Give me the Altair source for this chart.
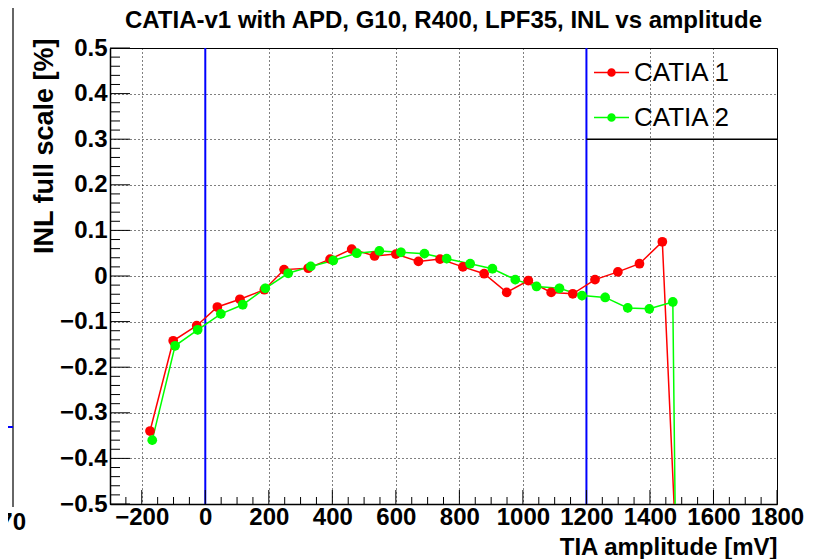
import altair as alt
import pandas as pd

# ---- data ----
cat1_x = [-174, -101, -27, 38, 109, 186, 248, 324, 393, 461, 533, 600, 671, 739,
          811, 878, 949, 1017, 1089, 1157, 1227, 1299, 1367, 1439, 1490]
cat1_y = [-0.340, -0.142, -0.109, -0.068, -0.051, -0.030, 0.014, 0.017, 0.037, 0.059,
          0.044, 0.048, 0.032, 0.037, 0.020, 0.005, -0.036, -0.010, -0.036, -0.039,
          -0.008, 0.009, 0.027, 0.075, -0.72]
cat1_err = [0.006] * 25

cat2_x = [-167, -95, -24, 49, 118, 189, 261, 332, 403, 477, 548, 616, 690, 760,
          834, 904, 976, 1043, 1115, 1186, 1259, 1330, 1398, 1472, 1484]
cat2_y = [-0.360, -0.153, -0.118, -0.083, -0.063, -0.027, 0.006, 0.021, 0.034, 0.050,
          0.055, 0.052, 0.049, 0.038, 0.027, 0.016, -0.008, -0.023, -0.027, -0.043,
          -0.047, -0.070, -0.072, -0.057, -0.80]
cat2_err = [0.010] * 25

series_names = ["CATIA 1", "CATIA 2"]
series_colors = ["#ff0000", "#00ff00"]

vlines = [0, 1200]
x_major = list(range(-200, 1801, 200))
x_minor = [v for v in range(-250, 1801, 50) if v % 200 != 0]
y_major = [round(-0.5 + 0.1 * i, 2) for i in range(11)]
y_minor = [round(-0.5 + 0.02 * i, 2) for i in range(51) if i % 5 != 0]

title_text = "CATIA-v1 with APD, G10, R400, LPF35, INL vs amplitude"
x_title = "TIA amplitude [mV]"
y_title = "INL full scale [%]"
stray_label = "70"   # tick label of the neighbouring (cropped) panel

# ---- tables ----
rows = []
for name, xs, ys, es in [(series_names[0], cat1_x, cat1_y, cat1_err),
                         (series_names[1], cat2_x, cat2_y, cat2_err)]:
    for i, (xv, yv, ev) in enumerate(zip(xs, ys, es)):
        rows.append({"series": name, "x": xv, "y": yv,
                     "lo": yv - ev, "hi": yv + ev, "order": i})
df = pd.DataFrame(rows)

FONT = "Liberation Sans"
W, H = 667, 456

xscale = alt.Scale(domain=[-300, 1800], nice=False, zero=False)
yscale = alt.Scale(domain=[-0.5, 0.5], nice=False, zero=False)
cscale = alt.Scale(domain=series_names, range=series_colors)

x_axis = alt.Axis(values=x_major, grid=True, gridDash=[1, 3], gridColor="black",
                  gridOpacity=1, gridWidth=1, domain=True, domainColor="black",
                  domainWidth=1.5, ticks=False, tickSize=0,
                  labelFont=FONT, labelFontSize=24, labelFontWeight="bold",
                  labelColor="black", labelPadding=1, labelFlush=False,
                  labelOverlap=False,
                  labelExpr="replace(format(datum.value, 'd'), '-', '\u2212')",
                  title=x_title, titleFont=FONT, titleFontSize=24,
                  titleFontWeight="bold", titleColor="black",
                  titleX=W, titleY=50, titleAlign="right", titleAnchor="end",
                  titleBaseline="alphabetic")
y_axis = alt.Axis(values=y_major, grid=True, gridDash=[1, 3], gridColor="black",
                  gridOpacity=1, gridWidth=1, domain=True, domainColor="black",
                  domainWidth=1.5, ticks=False, tickSize=0,
                  labelFont=FONT, labelFontSize=24, labelFontWeight="bold",
                  labelColor="black", labelPadding=3, labelFlush=False,
                  labelOverlap=False,
                  labelExpr="datum.value == 0 ? '0' : replace(format(datum.value, '.1f'), '-', '\u2212')",
                  title=y_title, titleFont=FONT, titleFontSize=27,
                  titleFontWeight="bold", titleColor="black",
                  titleX=-58, titleY=-10, titleAlign="right", titleAngle=270,
                  titleBaseline="alphabetic")


def X(field):
    return alt.X(field, scale=xscale, axis=x_axis)


def Y(field):
    return alt.Y(field, scale=yscale, axis=y_axis)


# legend symbol: short line with a filled dot (concentric stroked rings)
sym = ("M-1,0L1,0"
       "M-0.2,0A0.2,0.2,0,1,0,0.2,0A0.2,0.2,0,1,0,-0.2,0"
       "M-0.14,0A0.14,0.14,0,1,0,0.14,0A0.14,0.14,0,1,0,-0.14,0"
       "M-0.08,0A0.08,0.08,0,1,0,0.08,0A0.08,0.08,0,1,0,-0.08,0"
       "M-0.03,0A0.03,0.03,0,1,0,0.03,0A0.03,0.03,0,1,0,-0.03,0")
legend = alt.Legend(orient="none", legendX=483, legendY=6, title=None,
                    symbolType=sym, symbolSize=1225, symbolStrokeWidth=1.5,
                    labelFont=FONT, labelFontSize=26, labelColor="black",
                    labelOffset=4, rowPadding=13, padding=0, symbolOffset=0)

base = alt.Chart(df)

blue = alt.Chart(pd.DataFrame({"v": vlines})).mark_rule(
    color="#0000ff", strokeWidth=2).encode(x=X("v:Q"))

lines = base.mark_line(strokeWidth=1.5, clip=True).encode(
    x=X("x:Q"), y=Y("y:Q"),
    color=alt.Color("series:N", scale=cscale, legend=legend),
    order="order:Q",
)

errs = base.mark_rule(strokeWidth=1.5, clip=True).encode(
    x=X("x:Q"), y=Y("lo:Q"), y2="hi:Q",
    color=alt.Color("series:N", scale=cscale, legend=legend),
)

pts = base.mark_circle(size=95, opacity=1, clip=True).encode(
    x=X("x:Q"), y=Y("y:Q"),
    color=alt.Color("series:N", scale=cscale, legend=legend),
)

# legend box lower border
leg_box = alt.Chart(pd.DataFrame({"a": [1200], "b": [1800], "y": [0.3]})).mark_rule(
    color="black", strokeWidth=1.5).encode(x=X("a:Q"), x2="b:Q", y=Y("y:Q"))

xt_major = alt.Chart(pd.DataFrame({"v": x_major})).mark_rule(color="black").encode(
    x=X("v:Q"), y=alt.value(H), y2=alt.value(H - 14))
xt_minor = alt.Chart(pd.DataFrame({"v": x_minor})).mark_rule(color="black").encode(
    x=X("v:Q"), y=alt.value(H), y2=alt.value(H - 7))
yt_major = alt.Chart(pd.DataFrame({"v": y_major})).mark_rule(color="black").encode(
    y=Y("v:Q"), x=alt.value(0), x2=alt.value(20))
yt_minor = alt.Chart(pd.DataFrame({"v": y_minor})).mark_rule(color="black").encode(
    y=Y("v:Q"), x=alt.value(0), x2=alt.value(10))

title = alt.Chart(pd.DataFrame({"t": [title_text]})).mark_text(
    font=FONT, fontSize=24, fontWeight="bold", color="black",
    align="center", baseline="alphabetic").encode(
    text="t:N", x=alt.value(W / 2), y=alt.value(-20))

# remnants of the neighbouring panel cropped at the left edge
one = pd.DataFrame({"t": [stray_label]})
stray_frame = alt.Chart(one).mark_rule(color="#333333", strokeWidth=1.5).encode(
    x=alt.value(-97), y=alt.value(-40), y2=alt.value(H + 3))
stray_blue = alt.Chart(one).mark_rule(color="#0000ff", strokeWidth=2).encode(
    x=alt.value(-102), x2=alt.value(-97), y=alt.value(379))
stray_text = alt.Chart(one).mark_text(
    font=FONT, fontSize=24, fontWeight="bold", color="black",
    align="right", baseline="alphabetic").encode(
    text="t:N", x=alt.value(-84), y=alt.value(482))

chart = alt.layer(blue, lines, errs, pts, leg_box,
                  xt_major, xt_minor, yt_major, yt_minor, title,
                  stray_frame, stray_blue, stray_text).properties(
    width=W, height=H,
    padding={"left": 102, "top": 40, "right": 41, "bottom": 55},
    autosize=alt.AutoSizeParams(type="none"),
    background="white",
).configure_view(stroke="black", strokeWidth=1)

chart.save("out.html", embed_options={"renderer": "svg", "actions": False})
